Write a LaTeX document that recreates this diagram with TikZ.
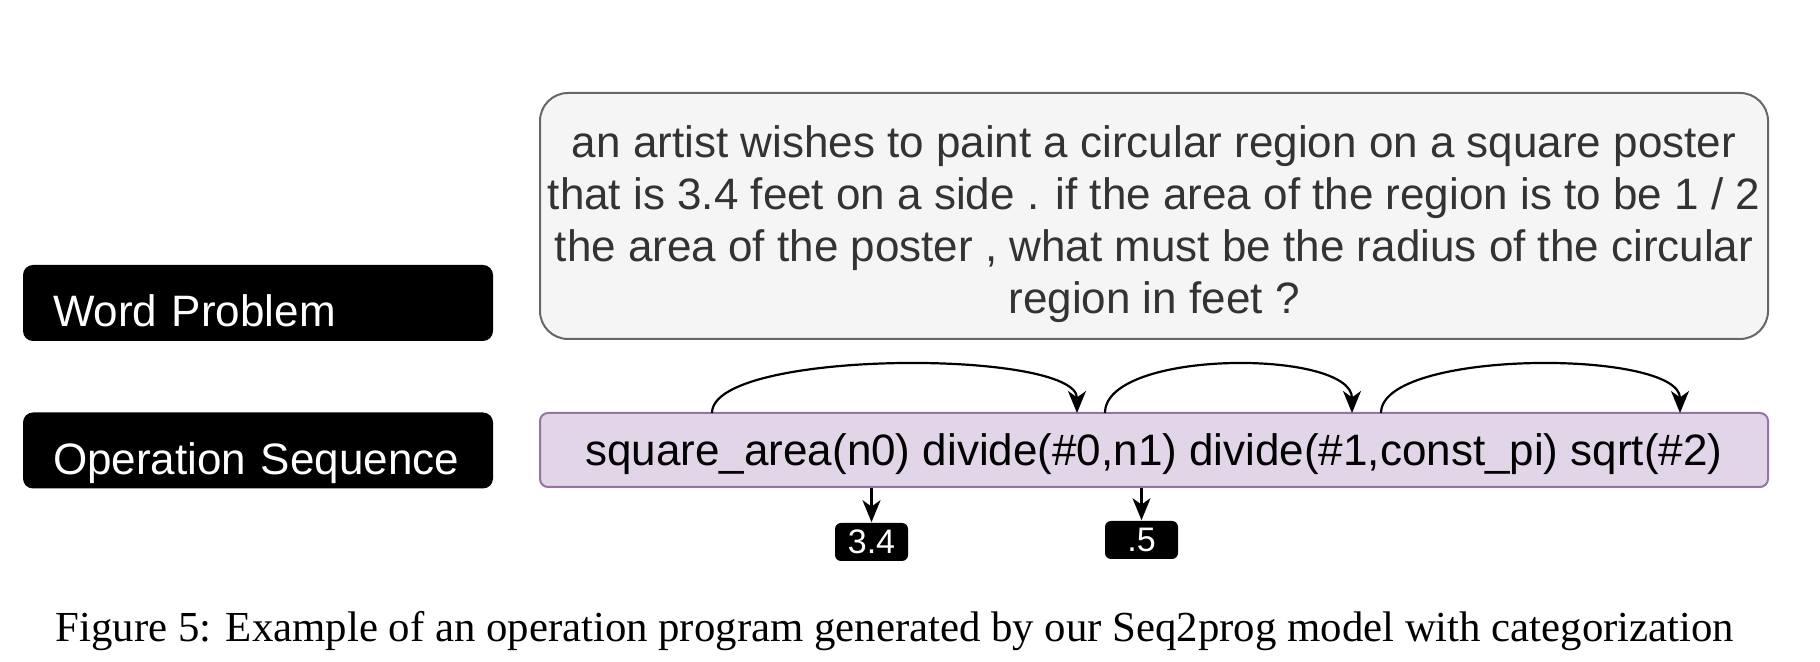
\documentclass[tikz,border=0pt]{standalone}
\usepackage{fontspec}
\setmainfont{Liberation Serif}
\setsansfont{Liberation Sans}
\usetikzlibrary{arrows.meta,positioning}
\definecolor{probfill}{HTML}{F5F5F5}
\definecolor{probdraw}{HTML}{666666}
\definecolor{opfill}{HTML}{E1D5E7}
\definecolor{opdraw}{HTML}{9673A6}
\newcommand{\mdtxt}{\fontsize{11}{13}\selectfont\sffamily}
\newcommand{\smtxt}{\fontsize{8.5}{10}\selectfont\sffamily}

\begin{document}
\begin{tikzpicture}[
  x=0.25pt, y=0.25pt,
  >={Stealth[length=5.5pt,width=4.5pt,inset=1.6pt]},
  tag/.style={fill=black, text=white, rounded corners=2.5pt, minimum width=117.5pt, minimum height=19pt, text width=102.5pt, inner xsep=7.5pt, align=left, font=\mdtxt, text height=12pt, text depth=0pt},
  val/.style={fill=black, text=white, rounded corners=1.5pt, minimum width=18.25pt, minimum height=9.5pt, inner sep=0pt, font=\smtxt},
  prob/.style={draw=probdraw, fill=probfill, line width=0.5pt, rounded corners=7pt, minimum width=307pt, minimum height=61.5pt, inner xsep=1pt, align=center, font=\mdtxt, text=black!80},
  ops/.style={draw=opdraw, fill=opfill, line width=0.5pt, rounded corners=2pt, minimum width=307pt, minimum height=18.5pt, font=\mdtxt, text depth=0pt},
  link/.style={->, line width=0.55pt, out=90, in=90, distance=16pt},
]
  \useasboundingbox (0,0) rectangle (1820,662);

  % ---------------- row labels
  \node[tag] (wp) at (258,359) {Word Problem};
  \node[tag] (os) at (258,211.5) {Operation Sequence};

  % ---------------- problem text and program
  \node[prob] (problem) at (1154,446)
    {\rule{0pt}{12pt}an artist wishes to paint a circular region on a square poster\\
     that is 3.4 feet on a side . if the area of the region is to be 1 / 2\\
     the area of the poster , what must be the radius of the circular\\
     region in feet ?};
  \node[ops] (ops) at (1154,212)
    {square\_area(n0) divide(\#0,n1) divide(\#1,const\_pi) sqrt(\#2)};

  % ---------------- links between operations
  \coordinate (s0) at (712,249);  \coordinate (e0) at (1077,249);
  \coordinate (s1) at (1105,249); \coordinate (e1) at (1352,249);
  \coordinate (s2) at (1381,249); \coordinate (e2) at (1680,249);
  \foreach \a/\b in {s0/e0, s1/e1, s2/e2} \draw[link] (\a) to (\b);

  % ---------------- numbers taken from the problem
  \node[val] (n34) at (871.5,120) {3.4};
  \node[val] (n5) at (1141.5,122) {.5};
  \draw[->, line width=0.55pt] (ops.south -| n34) -- (n34.north);
  \draw[->, line width=0.55pt] (ops.south -| n5) -- (n5.north);

  \node[font=\fontsize{10.7}{12.7}\selectfont, anchor=base, inner sep=0pt] (cap) at (895,20)
    {Figure 5: Example of an operation program generated by our Seq2prog model with categorization};
\end{tikzpicture}
\end{document}
